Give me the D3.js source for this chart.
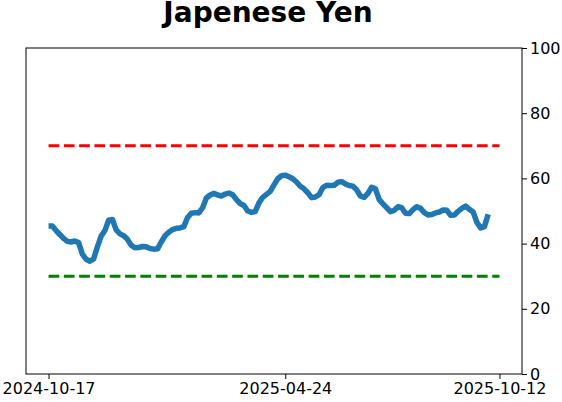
<!DOCTYPE html>
<html>
<head>
<meta charset="utf-8">
<script src="https://cdn.jsdelivr.net/npm/d3@7"></script>
<style>
  body { margin: 0; background: #fff; }
  text { font-family: "DejaVu Sans", sans-serif; }
</style>
</head>
<body>
<script>
const width = 562;
const height = 402;

const title = "Japenese Yen";
const firstDate = "2024-10-17";
const lastDate = "2025-10-12";
const stepDays = 3; // one reading every 3 days
const xTickLabels = ["2024-10-17", "2025-04-24", "2025-10-12"];
const yTicks = [0, 20, 40, 60, 80, 100];
const upperLevel = 70;
const lowerLevel = 30;

const values = [
  45.4, 45.4, 44.0, 42.8, 41.6, 40.7, 40.5, 40.8, 40.3, 36.8,
  35.2, 34.6, 35.3, 39.0, 42.3, 44.0, 47.2, 47.4, 44.2, 43.0,
  42.4, 41.3, 39.5, 38.7, 38.8, 39.1, 39.0, 38.5, 38.3, 38.4,
  40.5, 42.4, 43.5, 44.3, 44.7, 44.8, 45.2, 48.0, 49.3, 49.5,
  49.4, 51.0, 54.0, 54.9, 55.4, 54.9, 54.6, 55.2, 55.5, 55.0,
  53.5, 52.3, 51.7, 50.0, 49.6, 49.8, 52.5, 54.2, 55.1, 56.0,
  58.0, 59.9, 60.8, 61.0, 60.5, 59.9, 58.9, 57.6, 56.8, 55.6,
  54.1, 54.3, 55.0, 57.2, 57.9, 57.8, 57.9, 58.8, 59.0, 58.3,
  57.8, 57.6, 56.5, 54.6, 54.2, 55.4, 57.3, 56.8, 53.5, 52.2,
  51.0, 49.8, 50.2, 51.3, 51.0, 49.3, 49.2, 50.4, 51.3, 50.8,
  49.5, 48.8, 48.9, 49.4, 49.7, 50.3, 50.2, 48.7, 48.8, 49.9,
  50.8, 51.5, 50.5, 49.7, 46.5, 44.8, 45.2, 49.0
];

const parse = d3.timeParse("%Y-%m-%d");
const start = parse(firstDate);
const end = parse(lastDate);
const data = values.map((v, i) => ({ date: d3.timeDay.offset(start, i * stepDays), value: v }));

const margin = { top: 48, right: 40, bottom: 28, left: 26 };
const plotW = width - margin.left - margin.right;
const plotH = height - margin.top - margin.bottom;

// matplotlib style 5% padding on x
const span = end - start;
const x = d3.scaleTime()
  .domain([new Date(+start - span * 0.05), new Date(+end + span * 0.05)])
  .range([0, plotW]);
const y = d3.scaleLinear().domain([0, 100]).range([plotH, 0]);

const svg = d3.select("body").append("svg")
  .attr("width", width)
  .attr("height", height);

svg.append("text")
  .attr("x", 268)
  .attr("y", 21.5)
  .attr("text-anchor", "middle")
  .style("font-size", "28px")
  .style("font-weight", "bold")
  .text(title);

const g = svg.append("g")
  .attr("transform", "translate(" + margin.left + "," + margin.top + ")");

// threshold lines
g.append("line")
  .attr("x1", x(start)).attr("x2", x(end))
  .attr("y1", y(upperLevel)).attr("y2", y(upperLevel))
  .style("stroke", "red").style("stroke-width", 2.9)
  .style("stroke-dasharray", "10.7,4.6");

g.append("line")
  .attr("x1", x(start)).attr("x2", x(end))
  .attr("y1", y(lowerLevel)).attr("y2", y(lowerLevel))
  .style("stroke", "green").style("stroke-width", 2.9)
  .style("stroke-dasharray", "10.7,4.6");

const line = d3.line()
  .x(d => x(d.date))
  .y(d => y(d.value));

g.append("path")
  .datum(data)
  .attr("d", line)
  .style("fill", "none")
  .style("stroke", "#1f77b4")
  .style("stroke-width", 5.5)
  .style("stroke-linejoin", "round")
  .style("stroke-linecap", "butt");

// frame
g.append("rect")
  .attr("width", plotW).attr("height", plotH)
  .style("fill", "none").style("stroke", "#000").style("stroke-width", 1);

const xAxis = g.append("g")
  .attr("transform", "translate(0," + plotH + ")")
  .call(d3.axisBottom(x)
    .tickValues(xTickLabels.map(parse))
    .tickFormat(d3.timeFormat("%Y-%m-%d"))
    .tickSize(5)
    .tickPadding(4));

const yAxis = g.append("g")
  .attr("transform", "translate(" + plotW + ",0)")
  .call(d3.axisRight(y).tickValues(yTicks).tickSize(5).tickPadding(3));

[xAxis, yAxis].forEach(ax => {
  ax.select(".domain").remove();
  ax.selectAll("text").style("font-size", "16px").attr("fill", "#000")
    .style("font-family", "DejaVu Sans, sans-serif");
  ax.selectAll("line").attr("stroke", "#000");
});
</script>
</body>
</html>
